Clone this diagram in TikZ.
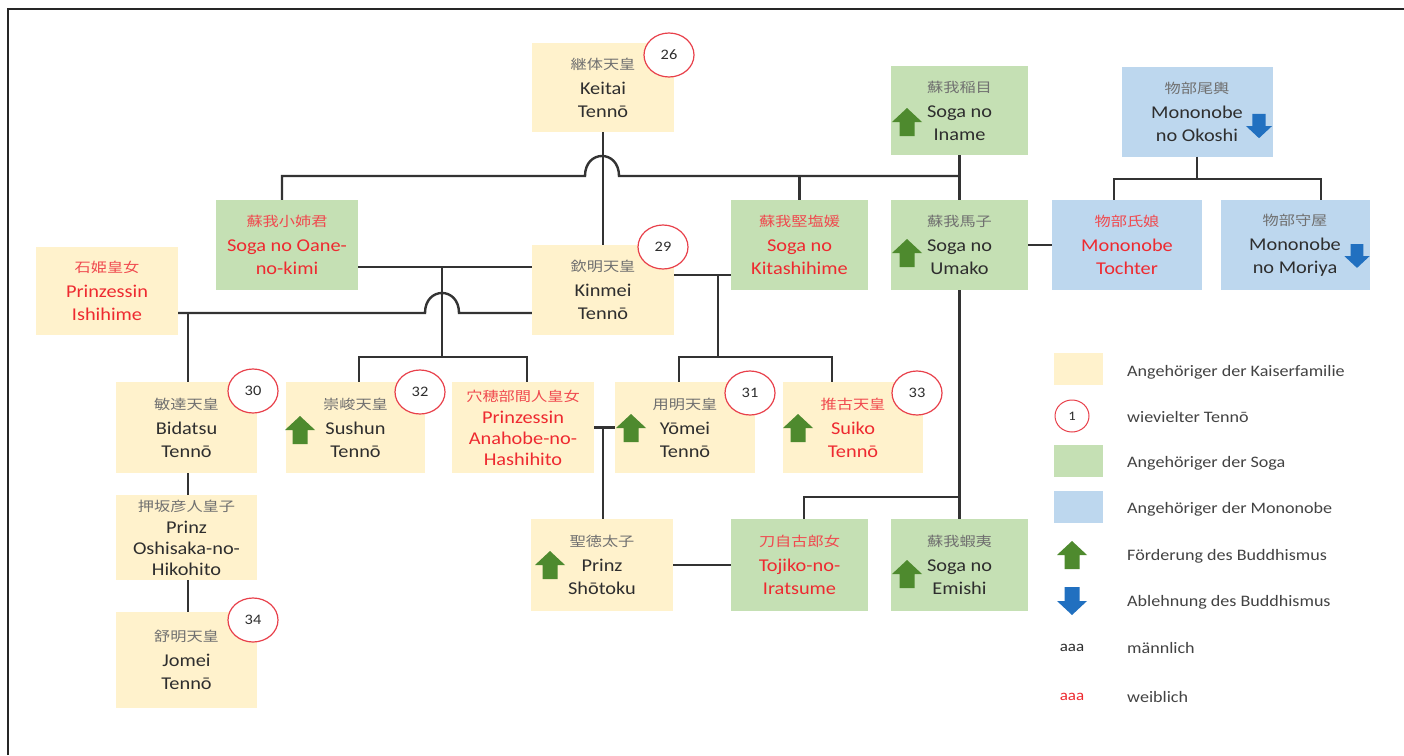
\documentclass[tikz,border=0pt]{standalone}
\usepackage{fontspec}
\setmainfont{Carlito}[FakeStretch=1.13]
\newfontfamily\jpfont{Noto Sans CJK JP}[FakeStretch=1.2]
\usetikzlibrary{shapes.geometric}
\definecolor{kyel}{HTML}{FFF2CC}
\definecolor{kgrn}{HTML}{C5E0B4}
\definecolor{kblu}{HTML}{BDD7EE}
\definecolor{kred}{HTML}{EE2A30}
\definecolor{kdark}{HTML}{2E2E2E}
\definecolor{kgray}{HTML}{707070}
\definecolor{kline}{HTML}{333333}
\definecolor{arrg}{HTML}{4E8A2E}
\definecolor{arrb}{HTML}{2170C0}
\definecolor{cred}{HTML}{E8404A}
\newcommand\kj[1]{{\jpfont\fontsize{13.5}{23}\selectfont\color{kgray}#1}}
\newcommand\kjr[1]{{\jpfont\fontsize{13.5}{23}\selectfont\color{kred!85}#1}}
\newcommand\garr[2][1]{\fill[arrg, shift={(#2)}, scale=#1] (0,-14) -- (15,0) -- (7.5,0) -- (7.5,14) -- (-7.5,14) -- (-7.5,0) -- (-15,0) -- cycle;}
\newcommand\barr[2][1]{\fill[arrb, shift={(#2)}, scale=#1] (0,14) -- (15,0) -- (7.5,0) -- (7.5,-14) -- (-7.5,-14) -- (-7.5,0) -- (-15,0) -- cycle;}
\begin{document}
\begin{tikzpicture}[x=1pt,y=-1pt,
  pbox/.style={inner sep=0pt, align=center, font=\fontsize{18}{23}\selectfont, text=kdark},
  ybox/.style={pbox, fill=kyel},
  gbox/.style={pbox, fill=kgrn},
  bbox/.style={pbox, fill=kblu},
  fem/.style={text=kred},
  num/.style={ellipse, draw=cred, line width=1.2pt, fill=white, minimum width=50pt, minimum height=44pt, inner sep=0pt, font=\fontsize{14.5}{14.5}\selectfont, text=kdark},
  conn/.style={draw=kline, line width=2.4pt},
  legt/.style={anchor=west, inner sep=0pt, font=\fontsize{16}{18}\selectfont, text=kdark!90},
  swatch/.style={inner sep=0pt, minimum width=49pt, minimum height=32pt}]
\useasboundingbox (0,0) rectangle (1404,755);
\fill[white] (0,0) rectangle (1404,755);
\draw[line width=1.6pt, black!85] (8,755) -- (8,9) -- (1404,9);

% persons
\node[ybox, minimum width=142pt, minimum height=89pt] (keitai) at (603,87.5) {\kj{継体天皇}\\[2pt]Keitai\\Tennō};
\node[gbox, minimum width=137pt, minimum height=89pt] (iname) at (959.5,110.5) {\kj{蘇我稲目}\\[2pt]Soga no\\Iname};
\node[bbox, minimum width=151pt, minimum height=90pt] (okoshi) at (1197,111.5) {\kj{物部尾輿}\\[2pt]Mononobe\\no Okoshi};
\node[gbox, fem, minimum width=142pt, minimum height=90pt] (oane) at (287,245) {\kjr{蘇我小姉君}\\[2pt]Soga no Oane-\\no-kimi};
\node[ybox, minimum width=142pt, minimum height=90pt] (kinmei) at (603,290) {\kj{欽明天皇}\\[2pt]Kinmei\\Tennō};
\node[gbox, fem, minimum width=137pt, minimum height=90pt] (kita) at (799.5,245) {\kjr{蘇我堅塩媛}\\[2pt]Soga no\\Kitashihime};
\node[gbox, minimum width=137pt, minimum height=90pt] (umako) at (959.5,245) {\kj{蘇我馬子}\\[2pt]Soga no\\Umako};
\node[bbox, fem, minimum width=150pt, minimum height=90pt] (tochter) at (1127,245) {\kjr{物部氏娘}\\[2pt]Mononobe\\Tochter};
\node[bbox, minimum width=149pt, minimum height=90pt] (moriya) at (1295,245) {\kj{物部守屋}\\[2pt]Mononobe\\no Moriya};
\node[ybox, fem, minimum width=142pt, minimum height=88pt] (ishihime) at (107,291) {\kjr{石姫皇女}\\[2pt]Prinzessin\\Ishihime};
\node[ybox, minimum width=141pt, minimum height=91pt] (bidatsu) at (186.5,427.5) {\kj{敏達天皇}\\[2pt]Bidatsu\\Tennō};
\node[ybox, minimum width=139pt, minimum height=91pt] (sushun) at (355.5,427.5) {\kj{崇峻天皇}\\[2pt]Sushun\\Tennō};
\node[ybox, fem, minimum width=142pt, minimum height=91pt] (anahobe) at (523,427.5) {\kjr{穴穂部間人皇女}\\[-1pt]Prinzessin\\[-2pt]Anahobe-no-\\[-2pt]Hashihito};
\node[ybox, minimum width=140pt, minimum height=91pt] (yomei) at (685,427.5) {\kj{用明天皇}\\[2pt]Yōmei\\Tennō};
\node[ybox, fem, minimum width=140pt, minimum height=91pt] (suiko) at (853,427.5) {\kjr{推古天皇}\\[2pt]Suiko\\Tennō};
\node[ybox, minimum width=141pt, minimum height=85pt] (oshisaka) at (186.5,537.5) {\kj{押坂彦人皇子}\\[-1pt]Prinz\\[-2pt]Oshisaka-no-\\[-2pt]Hikohito};
\node[ybox, minimum width=142pt, minimum height=92pt] (shotoku) at (602,565) {\kj{聖徳太子}\\[2pt]Prinz\\Shōtoku};
\node[gbox, fem, minimum width=137pt, minimum height=92pt] (tojiko) at (799.5,565) {\kjr{刀自古郎女}\\[2pt]Tojiko-no-\\Iratsume};
\node[gbox, minimum width=137pt, minimum height=92pt] (emishi) at (959.5,565) {\kj{蘇我蝦夷}\\[2pt]Soga no\\Emishi};
\node[ybox, minimum width=141pt, minimum height=96pt] (jomei) at (186.5,660) {\kj{舒明天皇}\\[2pt]Jomei\\Tennō};

% junction coordinates
\coordinate (h176) at (0,176);
\coordinate (h267) at (0,267);
\coordinate (h275) at (0,275);
\coordinate (h313) at (0,313);
\coordinate (h497) at (0,497);
\coordinate (m1) at (442,357);
\coordinate (m1t) at (442,267);
\coordinate (m2) at (718,357);
\coordinate (m2t) at (718,275);
\coordinate (ok) at (1197,179);

% connectors
\draw[conn] (keitai.south) -- (kinmei.north);
\draw[conn] (iname.south) -- (umako.north);
\draw[conn] ([xshift=-5pt]oane.north) |- (585,176) .. controls (585,149.3) and (619,149.3) .. (619,176) -- (iname.south |- h176);
\draw[conn] (kita.north) -- (kita.north |- h176);
\draw[conn] (okoshi.south) -- (ok);
\draw[conn] ([xshift=-13pt]tochter.north) |- (ok) -| ([xshift=26pt]moriya.north);
\draw[conn] (umako.east) -- (tochter.west);
\draw[conn] (oane.east |- h267) -- (kinmei.west |- h267);
\draw[conn] (m1t) -- (m1);
\draw[conn] ([xshift=3.5pt]sushun.north) |- (m1) -| ([xshift=4pt]anahobe.north);
\draw[conn] (ishihime.east |- h313) -- (425,313) .. controls (425,286.3) and (459,286.3) .. (459,313) -- (kinmei.west |- h313);
\draw[conn] ([xshift=1.5pt]bidatsu.north) -- ([xshift=1.5pt]bidatsu.north |- h313);
\draw[conn] (kinmei.east |- h275) -- (kita.west |- h275);
\draw[conn] (m2t) -- (m2);
\draw[conn] ([xshift=-6pt]yomei.north) |- (m2) -| ([xshift=-21pt]suiko.north);
\draw[conn] ([xshift=1.5pt]bidatsu.south) -- ([xshift=1.5pt]oshisaka.north);
\draw[conn] ([xshift=1.5pt]oshisaka.south) -- ([xshift=1.5pt]jomei.north);
\draw[conn] (anahobe.east) -- (yomei.west);
\draw[conn] ([xshift=1pt]shotoku.north) -- ([xshift=1pt]shotoku.north |- anahobe.east);
\draw[conn] (shotoku.east) -- (tojiko.west);
\draw[conn] (umako.south) -- (emishi.north);
\draw[conn] ([xshift=4.5pt]tojiko.north) |- (umako.south |- h497);

% arrows
\garr{907,122}
\garr{907,253}
\garr{300,430}
\garr{631,428}
\garr{798,428}
\garr{550,565}
\garr{907,574}
\barr[0.87]{1259,126}
\barr[0.85]{1357,256}

% reign numbers
\node[num] (c26) at (669,55) {26};
\node[num] (c29) at (663,247) {29};
\node[num] (c30) at (253,391) {30};
\node[num] (c32) at (420,392) {32};
\node[num] (c31) at (750,393) {31};
\node[num] (c33) at (917,393) {33};
\node[num] (c34) at (253,620) {34};

% legend
\node[swatch, fill=kyel] (lyel) at (1078.5,369) {};
\node[num, minimum width=34pt, minimum height=32pt, line width=1pt, font=\fontsize{13}{13}\selectfont] (lnum) at (1072,416) {1};
\node[swatch, fill=kgrn] (lgrn) at (1078.5,460.5) {};
\node[swatch, fill=kblu] (lblu) at (1078.5,506.5) {};
\garr{1072,555}
\barr{1072,601}
\node[inner sep=0pt, font=\fontsize{15}{15}\selectfont, text=kdark] (lm) at (1072,648) {aaa};
\node[inner sep=0pt, font=\fontsize{15}{15}\selectfont, text=kred] (lw) at (1072,697) {aaa};
\node[legt] (t1) at (1127,372) {Angehöriger der Kaiserfamilie};
\node[legt] (t2) at (1127,417) {wievielter Tennō};
\node[legt] (t3) at (1127,463) {Angehöriger der Soga};
\node[legt] (t4) at (1127,509) {Angehöriger der Mononobe};
\node[legt] (t5) at (1127,556) {Förderung des Buddhismus};
\node[legt] (t6) at (1127,602) {Ablehnung des Buddhismus};
\node[legt] (t7) at (1127,648) {männlich};
\node[legt] (t8) at (1127,697) {weiblich};
\end{tikzpicture}
\end{document}
